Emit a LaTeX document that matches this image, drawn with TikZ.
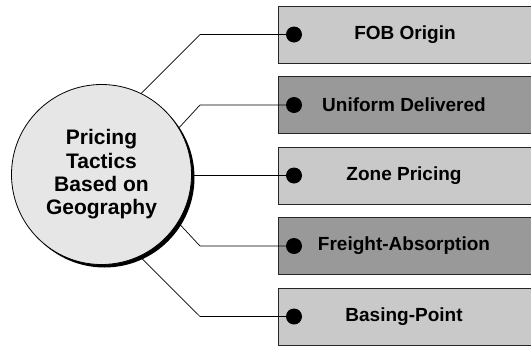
\documentclass[tikz,border=0pt]{standalone}
\usepackage{fontspec}
\setmainfont{Liberation Sans}
\definecolor{lightbox}{HTML}{C9C9C9}
\definecolor{darkbox}{HTML}{999999}
\definecolor{circfill}{HTML}{E6E6E6}
\begin{document}
\begin{tikzpicture}[x=1pt,y=-1pt,
  tacticbox/.style={draw=black!85, line width=0.9pt, minimum width=262pt, minimum height=57pt, inner sep=0pt, outer sep=0pt, anchor=north west},
  boxlabel/.style={font=\fontsize{19}{21}\selectfont\bfseries, anchor=center},
  blackdot/.style={circle, fill=black, minimum size=16pt, inner sep=0pt},
  conn/.style={draw=black, line width=0.7pt},
  ]
\useasboundingbox (0,0) rectangle (531,346);
\clip (0,0) rectangle (531,346);
% boxes
\node[tacticbox, fill=lightbox] (b1) at (278,6) {};
\node[tacticbox, fill=darkbox] (b2) at (278,76.5) {};
\node[tacticbox, fill=lightbox] (b3) at (278,147) {};
\node[tacticbox, fill=darkbox] (b4) at (278,217.5) {};
\node[tacticbox, fill=lightbox] (b5) at (278,288) {};
\node[boxlabel] (t1) at (405,34.5) {FOB Origin};
\node[boxlabel] (t2) at (404,105) {Uniform Delivered};
\node[boxlabel] (t3) at (404,175.5) {Zone Pricing};
\node[boxlabel] (t4) at (404,246) {Freight-Absorption};
\node[boxlabel] (t5) at (404,316.5) {Basing-Point};
% central circle with shadow
\fill[black] (104.5,177.5) circle (90);
\node[circle, draw=black, line width=0.8pt, fill=circfill, minimum size=180pt, inner sep=0pt, outer sep=0pt,
  align=center, font=\fontsize{21}{23.3}\selectfont\bfseries] (c) at (101.5,174.5)
  {Pricing\\Tactics\\Based on\\Geography};
% elbows
\coordinate (e1) at (200,34.5);
\coordinate (e2) at (200,105);
\coordinate (e4) at (200,246);
\coordinate (e5) at (200,316.5);
% dots
\node[blackdot] (d1) at (294,34.5) {};
\node[blackdot] (d2) at (294,105) {};
\node[blackdot] (d3) at (294,175.5) {};
\node[blackdot] (d4) at (294,246) {};
\node[blackdot] (d5) at (294,316.5) {};
% connectors
\draw[conn] (d1) -- (e1) -- (c.64);
\draw[conn] (d2) -- (e2) -- (c.31.8);
\draw[conn] (d3) -- (d3 -| c.east);
\draw[conn] (d4) -- (e4) -- (c.-32.8);
\draw[conn] (d5) -- (e5) -- (c.-65);
\end{tikzpicture}
\end{document}
